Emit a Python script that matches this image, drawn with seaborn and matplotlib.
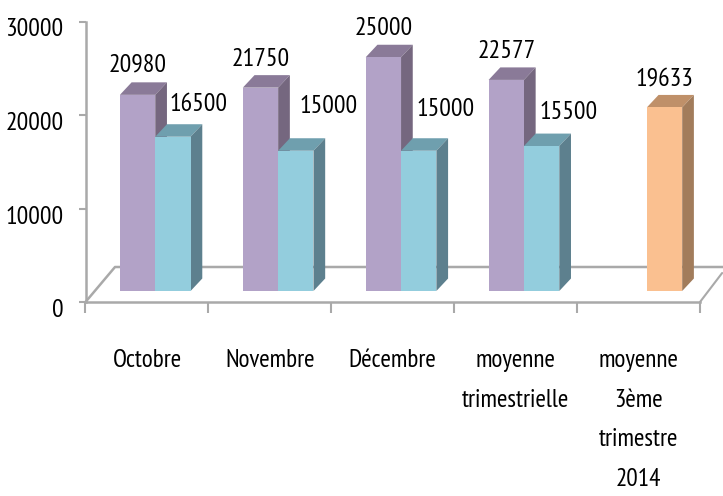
import pandas as pd
import seaborn as sns
import matplotlib.pyplot as plt
from matplotlib.patches import Polygon
from matplotlib.transforms import ScaledTranslation

# Data
mois = ['Octobre', 'Novembre', 'Décembre', 'moyenne\ntrimestrielle', 'moyenne\n3ème\ntrimestre\n2014']
serie_a = [20980, 21750, 25000, 22577, None]
serie_b = [16500, 15000, 15000, 15500, 19633]
y_ticks = [0, 10000, 20000, 30000]

# Label offsets from the bar top, in pixels
offset_a = [(0, 30), (0, 28), (0, 29), (0, 28)]
offset_b = [(26, 32), (33, 44), (27, 41), (27, 34), (0, 27)]

# Colours (front, top, side)
violet = ('#b2a2c7', '#8a7a98', '#75677f')
bleu = ('#93cddd', '#6f9fae', '#5d808e')
orange = ('#fac090', '#bf9069', '#a27c5b')
gris = '#a9a9a9'

W, H = 723, 496
x0, x1, y_top, y_zero = 85.5, 700, 21.5, 302
shift_x, shift_y = 8.3, 11  # bars stand inside the floor
depth_x, depth_y = 11.7 / 122.9, 12.5 / 280.5 * 30000

sns.set_theme(style='white')
plt.rcParams['font.family'] = ['PT Sans Narrow', 'Archivo Narrow', 'Roboto Condensed', 'Liberation Sans', 'DejaVu Sans']

df = pd.DataFrame({
    'mois': mois * 2,
    'valeur': serie_a + serie_b,
    'serie': ['a'] * 5 + ['b'] * 5,
})

fig = plt.figure(figsize=(W / 100, H / 100), dpi=100)
rect = [x0 / W, 1 - y_zero / H, (x1 - x0) / W, (y_zero - y_top) / H]
ax = fig.add_axes(rect)

# Axes and floor
ax.set_xlim(-0.5, 4.5)
ax.set_ylim(0, 30000)
ax.set_yticks(y_ticks)
ax.set_xticks([i - 0.5 for i in range(6)])
ax.set_xticklabels([])
ax.set_xticks(range(5), mois, minor=True)
ax.tick_params(axis='x', which='major', length=8, width=1.5, color=gris, bottom=True)
ax.tick_params(axis='x', which='minor', length=0, pad=34, labelsize=18.2, labelcolor='black', bottom=True)
ax.tick_params(axis='y', length=5, width=1.5, color=gris, pad=11, labelsize=18.5, labelcolor='black', left=True)
for lab in ax.get_xticklabels(minor=True):
    lab.set_linespacing(1.92)
    lab.set_verticalalignment('top')
down = ScaledTranslation(0, -6 / 100, fig.dpi_scale_trans)
for lab in ax.get_yticklabels():
    lab.set_transform(lab.get_transform() + down)
for side in ['top', 'right']:
    ax.spines[side].set_visible(False)
for side in ['left', 'bottom']:
    ax.spines[side].set_color(gris)
    ax.spines[side].set_linewidth(1.8)

back_x, back_y = 29.5 / 122.9, 35 / 280.5 * 30000
ax.plot([-0.5, -0.5 + back_x, 4.7], [0, back_y, back_y], color=gris, lw=1.8, clip_on=False)
ax.plot([4.5, 4.68], [0, 3100], color=gris, lw=1.5, clip_on=False)

# Bars sit on a second transparent axes, moved onto the floor
rect_b = [(x0 + shift_x) / W, 1 - (y_zero - shift_y) / H, (x1 - x0) / W, (y_zero - y_top) / H]
ax_b = fig.add_axes(rect_b)
ax_b.patch.set_alpha(0)
sns.barplot(data=df, x='mois', y='valeur', hue='serie', order=mois, hue_order=['a', 'b'],
            palette={'a': violet[0], 'b': bleu[0]}, width=0.575, gap=0, saturation=1,
            legend=False, ax=ax_b)
ax_b.set_xlim(-0.5, 4.5)
ax_b.set_ylim(0, 30000)
ax_b.axis('off')

bars = [p for p in ax_b.patches if p.get_height() > 0]
valeurs = [v for v in serie_a if v is not None] + serie_b
couleurs = [violet] * 4 + [bleu] * 4 + [orange]
offsets = offset_a + offset_b

for i, (bar, val, coul, off) in enumerate(zip(bars, valeurs, couleurs, offsets)):
    xl, xr = bar.get_x(), bar.get_x() + bar.get_width()
    top = bar.get_height()
    bar.set_facecolor(coul[0])
    bar.set_edgecolor('none')
    bar.set_zorder(5)
    z = 1 if i < 4 else 2
    ax_b.add_patch(Polygon([(xl, top), (xr, top), (xr + depth_x, top + depth_y), (xl + depth_x, top + depth_y)],
                           closed=True, fc=coul[1], ec='none', zorder=z, clip_on=False))
    ax_b.add_patch(Polygon([(xr, 0), (xr, top), (xr + depth_x, top + depth_y), (xr + depth_x, depth_y)],
                           closed=True, fc=coul[2], ec='none', zorder=z, clip_on=False))
    ax_b.annotate(str(val), xy=((xl + xr) / 2, top), xytext=off, textcoords='offset pixels',
                  ha='center', va='center', fontsize=18.5, color='black', annotation_clip=False, zorder=6)

plt.savefig('out.png', dpi=100)
